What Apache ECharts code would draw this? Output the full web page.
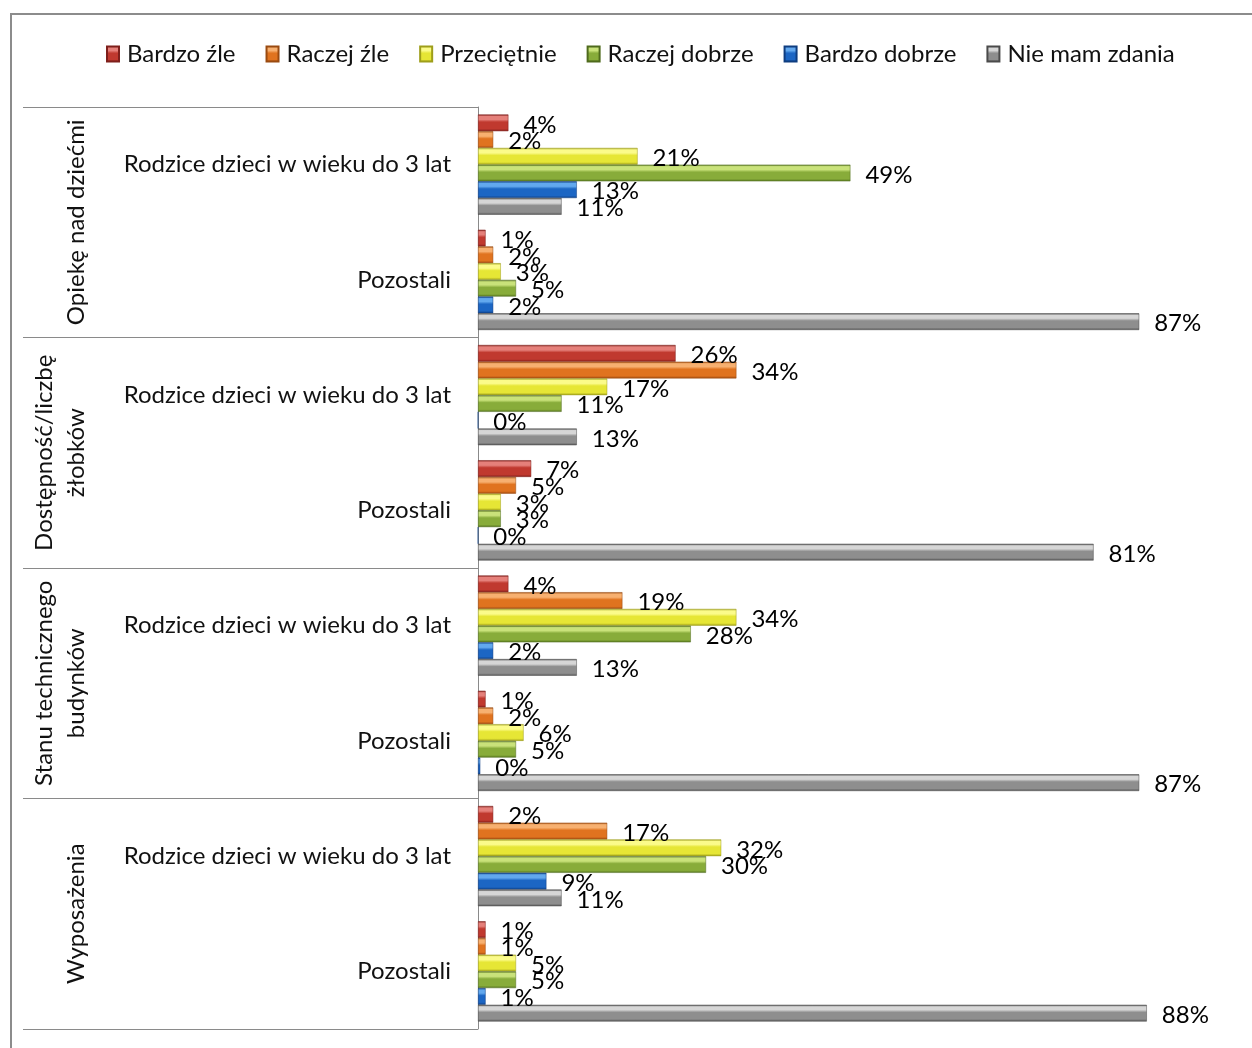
<!DOCTYPE html>
<html><head><meta charset="utf-8">
<script src="https://cdn.jsdelivr.net/npm/echarts@6/dist/echarts.min.js"></script>
<style>html,body{margin:0;padding:0;background:#fff}#c{width:1252px;height:1048px}</style>
</head><body><div id="c"></div>
<script>
// ---- data ----
const groups = ['Opiekę nad dziećmi', 'Dostępność/liczbę\nżłobków', 'Stanu technicznego\nbudynków', 'Wyposażenia'];
const subgroups = ['Rodzice dzieci w wieku do 3 lat', 'Pozostali'];
const seriesNames = ['Bardzo źle', 'Raczej źle', 'Przeciętnie', 'Raczej dobrze', 'Bardzo dobrze', 'Nie mam zdania'];
const bardzoZle    = [4, 1, 26, 7, 4, 1, 2, 1];
const raczejZle    = [2, 2, 34, 5, 19, 2, 17, 1];
const przecietnie  = [21, 3, 17, 3, 34, 6, 32, 5];
const raczejDobrze = [49, 5, 11, 3, 28, 5, 30, 5];
const bardzoDobrze = [13, 2, 0, 0, 2, 0.3, 9, 1];
const nieMamZdania = [11, 87, 13, 81, 13, 87, 11, 88];
const valueTicks = [0, 100];

// ---- build ----
const seriesValues = [bardzoZle, raczejZle, przecietnie, raczejDobrze, bardzoDobrze, nieMamZdania];
const palettes = [
  ['#7E1F1B', '#E5807A', '#C0392F', '#86201C'],
  ['#9A4A10', '#F7B070', '#E0731F', '#A04A10'],
  ['#9E9E1A', '#FBFB8A', '#E6E635', '#A3A31C'],
  ['#4E6A1C', '#C9E27A', '#88AC3A', '#55741E'],
  ['#0E3D80', '#62A8EE', '#1C66C4', '#0F4188'],
  ['#4A4A4A', '#D6D6D6', '#8E8E8E', '#555555']
];
function grad(p) {
  return new echarts.graphic.LinearGradient(0, 0, 0, 1, [
    {offset: 0, color: p[0]}, {offset: 0.12, color: p[1]}, {offset: 0.3, color: p[1]},
    {offset: 0.45, color: p[2]}, {offset: 0.85, color: p[2]}, {offset: 1, color: p[3]}
  ]);
}
const categories = [];
groups.forEach((g, gi) => subgroups.forEach(s => categories.push(gi + '|' + s)));
const FONT = 'Lato';
const FS = 24;

const series = seriesNames.map((name, i) => ({
  name: name,
  type: 'bar',
  yAxisIndex: 0,
  data: seriesValues[i],
  barGap: '0%',
  barCategoryGap: '13%',
  itemStyle: {color: grad(palettes[i]), borderColor: palettes[i][0], borderWidth: 0.5},
  label: {
    show: true, position: 'right', distance: 15, offset: [0, 2],
    fontFamily: FONT, fontSize: FS, color: '#000',
    formatter: p => Math.round(p.value) + '%'
  }
}));

const chart = echarts.init(document.getElementById('c'), null, {renderer: 'canvas'});
chart.setOption({
  backgroundColor: '#fff',
  animation: false,
  legend: {
    data: seriesNames,
    top: 37, left: 101,
    icon: 'rect',
    itemWidth: 12, itemHeight: 15, itemGap: 30,
    textStyle: {fontFamily: FONT, fontSize: FS, color: '#111', padding: [0, 0, 0, 3]}
  },
  grid: {left: 478, top: 107, right: 14, bottom: 19, containLabel: false},
  xAxis: {
    type: 'value', min: valueTicks[0], max: valueTicks[1],
    show: false, splitLine: {show: false}
  },
  yAxis: [
    {
      type: 'category', data: categories, inverse: true,
      axisLine: {show: true, lineStyle: {color: '#8a8a8a', width: 1}},
      axisTick: {show: false},
      axisLabel: {
        interval: 0, margin: 27, fontFamily: FONT, fontSize: FS, color: '#111',
        formatter: v => v.split('|')[1]
      }
    },
    {
      type: 'category', data: groups, inverse: true, position: 'left',
      axisLine: {show: false},
      axisTick: {show: true, interval: 0, length: 455, lineStyle: {color: '#8a8a8a', width: 1}},
      axisLabel: {
        interval: 0, rotate: 90, margin: 386, fontFamily: FONT, fontSize: FS, color: '#111', lineHeight: 32
      }
    }
  ],
  graphic: [{
    type: 'rect', shape: {x: 11, y: 14, width: 1300, height: 1100},
    style: {fill: 'none', stroke: '#8c8c8c', lineWidth: 2}, silent: true, z: -1
  }],
  series: series
});
</script></body></html>
